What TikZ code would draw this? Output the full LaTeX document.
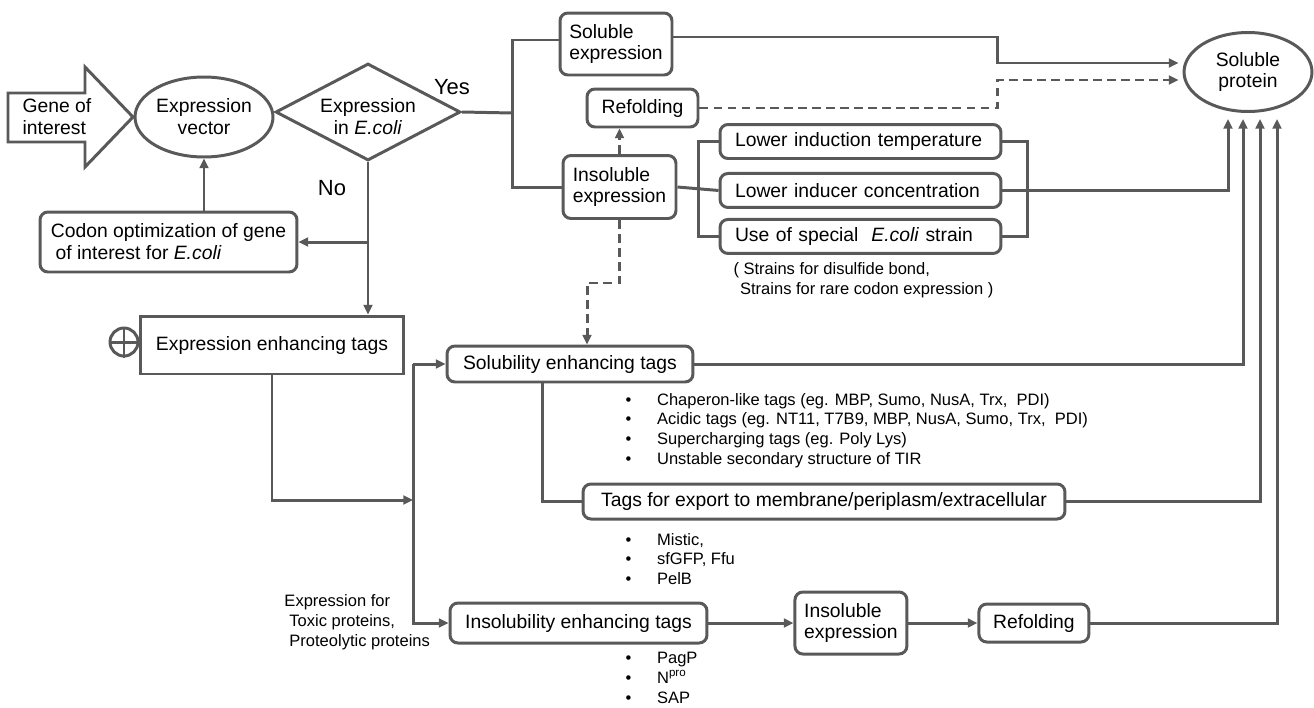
\documentclass[tikz,border=0pt]{standalone}
\usepackage{fontspec}
\setmainfont{Liberation Sans}
\usetikzlibrary{positioning,calc,shapes.geometric,arrows.meta}
\definecolor{linegray}{RGB}{89,89,89}
\newcommand{\mainsize}{\fontsize{11}{12.5}\selectfont}
\newcommand{\smallsize}{\fontsize{9.4}{11.3}\selectfont}
\newcommand{\blt}{\makebox[18pt][l]{\textbullet}}
\newcommand{\ecoli}{\textit{E.coli}}

\begin{document}
\begin{tikzpicture}[x=0.02cm,y=-0.02cm,line width=1.7pt,
	flow/.style={draw=linegray},
	arr/.style={flow,-{Triangle[length=5.5pt,width=5pt]}},
	dashedflow/.style={dash pattern=on 5pt off 3pt},
	box/.style={draw=linegray,rounded corners=4.5pt,inner sep=0pt,align=left,font=\mainsize},
	cond/.style={box,text width=5.02cm,inner xsep=0.3cm,minimum height=0.68cm},
	oval/.style={ellipse,draw=linegray,inner sep=0pt,align=center,font=\mainsize},
	note/.style={inner sep=0pt,align=left,font=\smallsize}]
	\useasboundingbox (0,0) rectangle (1314,707);
	% left part
	\draw[flow] (8,93) -- (85,93) -- (85,67) -- (133,117) -- (85,167) -- (85,142) -- (8,142) -- cycle;
	\node[font=\mainsize,align=left] at (57,117) (gene) {Gene of\\interest};
	\node[oval,minimum width=2.76cm,minimum height=1.6cm] at (204,117) (vec) {Expression\\vector};
	\node[diamond,draw=linegray,minimum width=3.7cm,minimum height=1.94cm,inner sep=0pt] at (368,112) (expr) {};
	\node[align=center,font=\mainsize] at ($(expr)+(0,5)$) (exprtext) {Expression\\in \ecoli};
	\node[box,minimum width=5.14cm,minimum height=1.2cm] at (168.5,242) (codon) {Codon optimization of gene\\\hspace*{0.25em}of interest for \ecoli};
	\node[draw=linegray,minimum width=5.28cm,minimum height=1.16cm,font=\mainsize] at (272,345) (eet) {Expression enhancing tags};
	\node[circle,draw=linegray,minimum size=0.56cm,inner sep=0pt] at (124,342) (plus) {};
	\draw[flow] (plus.north) -- (plus.south) (plus.west) -- (plus.east);
	\node[font=\fontsize{12.5}{14}\selectfont] at (452,87) (yes) {Yes};
	\node[font=\fontsize{12.5}{14}\selectfont] at (332,188) (no) {No};
	% upper branch
	\node[box,minimum width=2.24cm,minimum height=1.24cm] at (616,44) (solexp) {Soluble\\expression};
	\node[box,minimum width=2.22cm,minimum height=0.76cm] at (642.5,108) (refold1) {Refolding};
	\node[box,minimum width=2.26cm,minimum height=1.26cm] at (619.5,187) (insol1) {Insoluble\\expression};
	\node[cond] at (860.5,141.5) (lowtemp) {Lower induction temperature};
	\node[cond,below=0.24cm of lowtemp] (lowconc) {Lower inducer concentration};
	\node[cond,below=0.18cm of lowconc] (strain) {Use of special\ \ \ecoli{} strain};
	\node[note,anchor=west] at (732,280) (strainnote) {( Strains for disulfide bond,\\\hspace*{0.4em}Strains for rare codon expression )};
	\node[oval,minimum width=2.56cm,minimum height=1.58cm] at (1248,72) (solprot) {Soluble\\protein};
	% tags
	\node[box,minimum width=4.92cm,minimum height=0.72cm] at (570,364) (soltags) {Solubility enhancing tags};
	\node[note,anchor=west] at (624,430.5) (solnote) {\blt Chaperon-like tags (eg. MBP, Sumo, NusA, Trx,\ \ PDI)\\\blt Acidic tags (eg. NT11, T7B9, MBP, NusA, Sumo, Trx,\ \ PDI)\\\blt Supercharging tags (eg. Poly Lys)\\\blt Unstable secondary structure of TIR};
	\node[box,minimum width=9.64cm,minimum height=0.7cm] at (824,501.5) (exptags) {Tags for export to membrane/periplasm/extracellular};
	\node[note,anchor=west] at (624,559) (expnote) {\blt Mistic,\\\blt sfGFP, Ffu\\\blt PelB};
	\node[box,minimum width=5.14cm,minimum height=0.8cm] at (578.5,623) (insoltags) {Insolubility enhancing tags};
	\node[note,anchor=west] at (624,678) (insolnote) {\blt PagP\\\blt N\textsuperscript{pro}\\\blt SAP};
	\node[box,minimum width=2.24cm,minimum height=1.24cm,right=1.7cm of insoltags] (insol2) {Insoluble\\expression};
	\node[box,minimum width=2.2cm,minimum height=0.76cm,right=1.38cm of insol2] (refold2) {Refolding};
	\node[note,anchor=west] at (283,622) (toxic) {Expression for\\\hspace*{0.3em}Toxic proteins,\\\hspace*{0.3em}Proteolytic proteins};
	%
	\coordinate (yj) at (512,113);
	\coordinate (bk) at (1027,187);
	\coordinate (kink) at (997,0);
	\coordinate (split) at (413,0);
	\coordinate (merge) at (413,500);
	\coordinate (ina) at ($(solprot.west)+(-4,-9)$);
	\coordinate (inb) at ($(solprot.west)+(-4,8)$);
	\coordinate (in1) at ($(solprot.south)+(-20,6)$);
	\coordinate (in2) at ($(solprot.south)+(-5,6)$);
	\coordinate (in3) at ($(solprot.south)+(12,6)$);
	\coordinate (in4) at ($(solprot.south)+(29,6)$);
	%
	\draw[arr] (vec.south |- codon.north) -- (vec.south);
	\draw[arr] (expr.south) -- (expr.south |- eet.north);
	\draw[arr] (expr.south |- codon.east) -- (codon.east);
	\draw[flow] (expr.east) -- (yj);
	\draw[flow] ($(solexp.west)+(0,-4)$) -| (yj) |- (insol1.west);
	\draw[arr,dashedflow] (insol1.north) -- (insol1.north |- refold1.south);
	\draw[arr,dashedflow] (insol1.south) -- ++(0,63) -| ($(soltags.north)+(17,0)$);
	\draw[flow] (insol1.east) -- (lowconc.west);
	\draw[flow] (lowtemp.west) -| ($(insol1.east)!0.5!(lowconc.west)$) |- (strain.west);
	\draw[flow] (lowtemp.east) -| (bk) |- (strain.east);
	\draw[arr] (lowconc.east) -| (in1);
	\draw[arr] ($(solexp.east)+(0,-7)$) -| (kink |- ina) -- (ina);
	\draw[arr,dashedflow] (refold1.east) -| (kink |- inb) -- (inb);
	\draw[arr] (soltags.east) -| (in2);
	\draw[arr] (exptags.east) -| (in3);
	\draw[arr] (refold2.east) -| (in4);
	\draw[flow] ($(soltags.south)+(-28,0)$) |- (exptags.west);
	\draw[arr] (eet.south) |- (merge);
	\draw[arr] (soltags.west -| split) |- (insoltags.west);
	\draw[arr] (soltags.west -| split) -- (soltags.west);
	\draw[arr] (insoltags.east) -- (insol2.west);
	\draw[arr] (insol2.east) -- (refold2.west);
\end{tikzpicture}
\end{document}
